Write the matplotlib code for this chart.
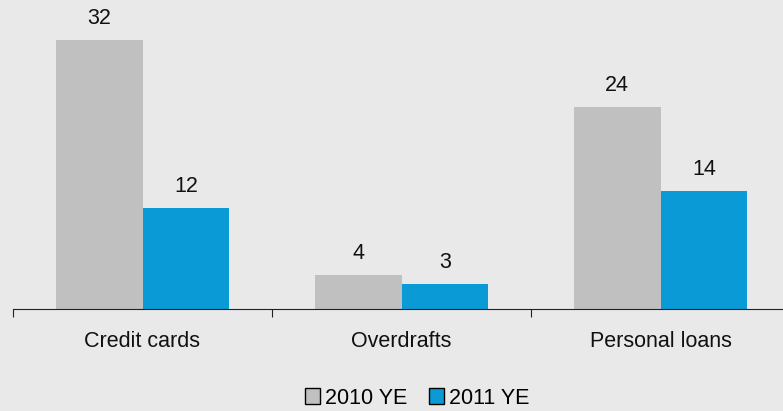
import numpy as np
import matplotlib.pyplot as plt
from matplotlib.patches import Patch

plt.rcParams['font.family'] = ['Liberation Sans', 'DejaVu Sans']

categories = ['Credit cards', 'Overdrafts', 'Personal loans']
series = ['2010 YE', '2011 YE']
vals_2010 = [32, 4, 24]
vals_2011 = [12, 3, 14]
colors = ['#c0c0c0', '#0a9bd7']
bg = '#e9e9e9'
fs = 15.5

fig = plt.figure(figsize=(7.83, 4.11), dpi=100, facecolor=bg)
ax = fig.add_axes([13 / 783, 102 / 411, 777 / 783, 309 / 411])
ax.set_facecolor(bg)

x = np.arange(len(categories))
w = 0.335
for i, (vals, col) in enumerate(zip([vals_2010, vals_2011], colors)):
    pos = x + (i - 0.5) * w
    ax.bar(pos, vals, width=w, color=col, zorder=2)
    for p, v in zip(pos, vals):
        ax.annotate(str(v), (p, v), xytext=(0, 8), textcoords='offset points',
                    ha='center', va='bottom', fontsize=fs, color='#111111')

ax.set_xlim(-0.5, 2.5)
ax.set_ylim(0, 36.8)
for s in ['top', 'right', 'left']:
    ax.spines[s].set_visible(False)
ax.spines['bottom'].set_color('#222222')
ax.set_yticks([])

# category boundary ticks, labels centred between them
ax.set_xticks([-0.5, 0.5, 1.5, 2.5])
ax.set_xticklabels([])
ax.tick_params(axis='x', direction='out', length=6, color='#222222')
ax.set_xticks(x, minor=True)
ax.set_xticklabels(categories, minor=True, fontsize=fs, color='#111111')
ax.tick_params(axis='x', which='minor', length=0, pad=16)

handles = [Patch(facecolor=c, edgecolor='black', linewidth=1.0) for c in colors]
fig.legend(handles, series, loc='center', bbox_to_anchor=(0.533, 13 / 411), ncol=2,
           frameon=False, fontsize=fs, handlelength=0.7, handleheight=0.7,
           handletextpad=0.25, columnspacing=1.0, borderaxespad=0)

fig.savefig('out.png', dpi=100, facecolor=bg)
